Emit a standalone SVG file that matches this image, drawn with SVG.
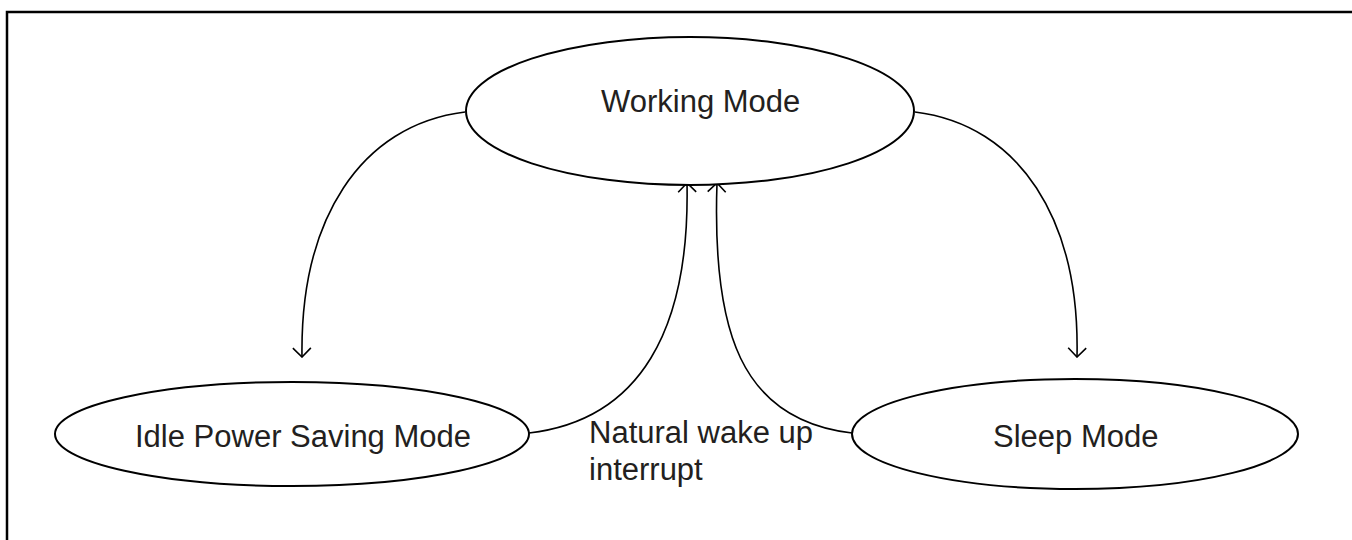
<svg xmlns="http://www.w3.org/2000/svg" width="1352" height="540" viewBox="0 0 1352 540">
<defs>
<style>
.node ellipse{fill:#fff;stroke:#000;stroke-width:2}
.lbl{font-family:"Liberation Sans",Arial,sans-serif;font-size:31px;fill:#231f20}
.edge{fill:none;stroke:#000;stroke-width:1.6}
</style>
<marker id="arr" viewBox="0 0 12 20" refX="11" refY="10" markerWidth="12" markerHeight="20" markerUnits="userSpaceOnUse" orient="auto">
<path d="M2,1 L11,10 L2,19" fill="none" stroke="#000" stroke-width="1.6"/>
</marker>
</defs>
<rect width="1352" height="540" fill="#fff"/>
<path d="M7,540 L7,12 L1352,12" fill="none" stroke="#000" stroke-width="2.5"/>
<g id="connectors">
<path class="edge" d="M465,112 C360,125 300,220 302,357" marker-end="url(#arr)"/>
<path class="edge" d="M915,112 C1020,125 1080,220 1077,357" marker-end="url(#arr)"/>
<path class="edge" d="M529,433 C640,420 690,330 687,183" marker-end="url(#arr)"/>
<path class="edge" d="M852,433 C740,420 712,330 717,183" marker-end="url(#arr)"/>
</g>
<g id="working">
<g class="node"><ellipse cx="690" cy="111" rx="224" ry="74"/></g>
<text class="lbl" x="601" y="112">Working Mode</text>
</g>
<g id="idle">
<g class="node"><ellipse cx="292" cy="434" rx="237" ry="52"/></g>
<text class="lbl" x="135" y="447">Idle Power Saving Mode</text>
</g>
<g id="sleep">
<g class="node"><ellipse cx="1075" cy="434" rx="223" ry="55"/></g>
<text class="lbl" x="993" y="447">Sleep Mode</text>
</g>
<g id="edge-label">
<text class="lbl" x="589" y="443">Natural wake up</text>
<text class="lbl" x="589" y="480">interrupt</text>
</g>
</svg>
